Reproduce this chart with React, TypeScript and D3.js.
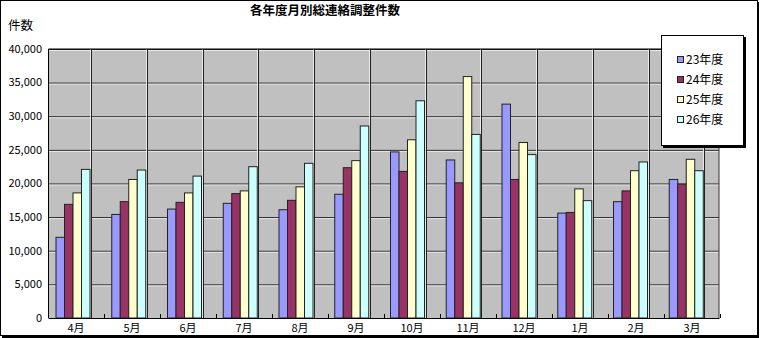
import React from "react";
import * as d3 from "d3";

const months = ["4月", "5月", "6月", "7月", "8月", "9月", "10月", "11月", "12月", "1月", "2月", "3月"];
const seriesNames = ["23年度", "24年度", "25年度", "26年度"];
const s23 = [12000, 15400, 16200, 17050, 16100, 18400, 24700, 23500, 31800, 15600, 17300, 20600];
const s24 = [16900, 17300, 17200, 18500, 17500, 22350, 21800, 20100, 20600, 15700, 18900, 19900];
const s25 = [18600, 20600, 18600, 18900, 19500, 23400, 26500, 35900, 26100, 19200, 21900, 23600];
const s26 = [22100, 22000, 21100, 22500, 23000, 28550, 32300, 27300, 24300, 17450, 23200, 21900];
const yTicks = [0, 5000, 10000, 15000, 20000, 25000, 30000, 35000, 40000];
const colors = ["#9999FF", "#993366", "#FFFFCC", "#CCFFFF"];

const FONT = "'Noto Sans CJK JP', 'Noto Sans', sans-serif";

export default function App() {
  const W = 760, H = 338;
  const left = 48.5, right = 719, top = 49, bottom = 318;
  const y = d3.scaleLinear().domain([0, 40000]).range([bottom, top]);
  const front = d3.scaleBand<string>().domain(months).range([48, 720]);
  const step = 55.75;
  const pin = 0.39;
  const bars = d3.scaleBand<string>().domain(months).range([56, 56 + step * (12 - pin)]).paddingInner(pin).paddingOuter(0);
  const inner = d3.scaleBand<number>().domain([0, 1, 2, 3]).range([0, bars.bandwidth()]);
  const all = [s23, s24, s25, s26];
  const fmt = d3.format(",");

  return (
    <svg width={W} height={H} style={{ position: "absolute", left: 0, top: 0, background: "#fff" }}>
      {/* outer frame */}
      <rect x={0.5} y={0.5} width={757} height={335} fill="#fff" stroke="#000" />
      <line x1={758.5} y1={2} x2={758.5} y2={337} stroke="#000" />
      <line x1={2} y1={336.5} x2={759} y2={336.5} stroke="#000" />
      <line x1={2} y1={337.5} x2={759} y2={337.5} stroke="#000" />

      <text x={325} y={15} textAnchor="middle" fontFamily={FONT} fontSize={12.5} fontWeight="bold" fill="#000">各年度月別総連絡調整件数</text>
      <text x={8} y={30} fontFamily={FONT} fontSize={12.5} fill="#000">件数</text>

      {/* plot area */}
      <rect x={left} y={top} width={right - left} height={bottom - top} fill="#C0C0C0" />
      {yTicks.slice(1).map((t) => (
        <g key={t}>
          <line x1={left} x2={right} y1={y(t) + 0.5} y2={y(t) + 0.5} stroke="#222" />
          <line x1={left} x2={right} y1={y(t) + 1.5} y2={y(t) + 1.5} stroke="#f4f4f4" strokeWidth={0.8} />
        </g>
      ))}
      {months.map((m) => {
        const gx = Math.round((bars(m) as number) + bars.bandwidth()) + 1.5;
        return (
          <g key={"v" + m}>
            <line x1={gx} x2={gx} y1={top} y2={bottom} stroke="#222" />
            <line x1={gx - 1} x2={gx - 1} y1={top} y2={bottom} stroke="#f4f4f4" strokeWidth={0.8} />
          </g>
        );
      })}
      {/* bars */}
      {all.map((s, si) =>
        s.map((v, i) => {
          const bx = (bars(months[i]) as number) + (inner(si) as number);
          return (
            <rect key={si + "-" + i} x={bx} y={y(v)} width={inner.bandwidth()} height={bottom - y(v)} fill={colors[si]} stroke="#222" strokeWidth={1} />
          );
        })
      )}
      {/* axes */}
      <line x1={left} x2={left} y1={top} y2={bottom} stroke="#000" />
      <line x1={left} x2={right} y1={top} y2={top} stroke="#000" />
      <line x1={right} x2={right} y1={top} y2={bottom} stroke="#333" />
      <line x1={left} x2={right + 0.5} y1={bottom + 0.5} y2={bottom + 0.5} stroke="#000" />
      {months.map((m) => {
        const tx = Math.round((front(m) as number) + front.bandwidth()) + 0.5;
        return <line key={"t" + m} x1={tx} x2={tx} y1={bottom} y2={bottom - 4} stroke="#000" />;
      })}
      {yTicks.map((t) => (
        <text key={"yl" + t} x={42} y={y(t)} dy="0.35em" textAnchor="end" fontFamily={FONT} fontSize={11} fill="#000">{fmt(t)}</text>
      ))}
      {months.map((m) => (
        <text key={"xl" + m} x={(front(m) as number) + front.bandwidth() / 2} y={328} dy="0.35em" textAnchor="middle" fontFamily={FONT} fontSize={11} fill="#000">{m}</text>
      ))}

      {/* legend */}
      <rect x={663} y={37} width={83} height={111} fill="#000" />
      <rect x={661.5} y={35.5} width={82} height={110} fill="#fff" stroke="#000" />
      {seriesNames.map((n, i) => (
        <g key={n} transform={`translate(677, ${60 + i * 20})`}>
          <rect x={0.5} y={-3.5} width={6} height={6} fill={colors[i]} stroke="#222" />
          <text x={9} y={0} dy="0.35em" fontFamily={FONT} fontSize={12} fill="#000">{n}</text>
        </g>
      ))}
    </svg>
  );
}
